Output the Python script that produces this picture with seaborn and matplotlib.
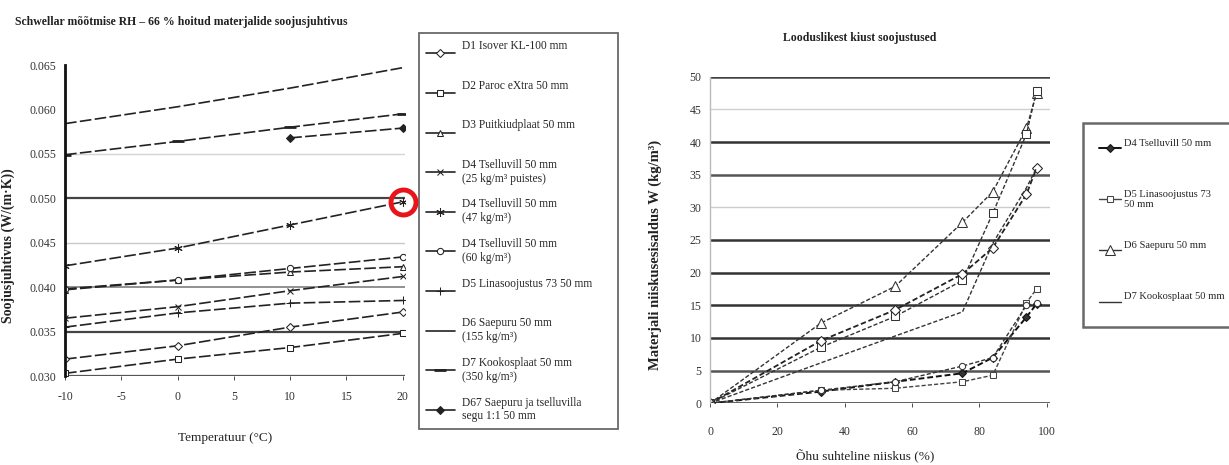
import matplotlib
matplotlib.use('Agg')
import matplotlib.pyplot as plt
import matplotlib.ticker as mticker
import seaborn as sns

sns.set_style('white')
plt.rcParams['font.family'] = ['Liberation Serif', 'DejaVu Serif']
plt.rcParams['axes.unicode_minus'] = False

# ---------------- left chart data ----------------
temps = [-10, 0, 10, 20]
temps_d67 = [10, 20]
d1 = [0.0319, 0.0334, 0.0355, 0.0372]
d2 = [0.0303, 0.0319, 0.0332, 0.0348]
d3 = [0.0397, 0.0408, 0.0417, 0.0423]
d4_25 = [0.0365, 0.0378, 0.0396, 0.0412]
d4_47 = [0.0424, 0.0444, 0.0470, 0.0496]
d4_60 = [0.0398, 0.0408, 0.0421, 0.0434]
d5 = [0.0355, 0.0371, 0.0382, 0.0385]
d6 = [0.0584, 0.0603, 0.0624, 0.0647]
d7 = [0.0549, 0.0564, 0.0580, 0.0595]
d67 = [0.0568, 0.0579]
left_labels = [
    "D1 Isover KL-100 mm",
    "D2 Paroc eXtra 50 mm",
    "D3 Puitkiudplaat 50 mm",
    "D4 Tselluvill 50 mm\n(25 kg/m\u00b3 puistes)",
    "D4 Tselluvill 50 mm\n(47 kg/m\u00b3)",
    "D4 Tselluvill 50 mm\n(60 kg/m\u00b3)",
    "D5 Linasoojustus 73 50 mm",
    "D6 Saepuru 50 mm\n(155 kg/m\u00b3)",
    "D7 Kookosplaat 50 mm\n(350 kg/m\u00b3)",
    "D67 Saepuru ja tselluvilla\nsegu 1:1 50 mm",
]
left_yticks = [0.030, 0.035, 0.040, 0.045, 0.050, 0.055, 0.060, 0.065]
left_xticks = [-10, -5, 0, 5, 10, 15, 20]

# ---------------- right chart data ----------------
rh = [0, 33, 55, 75, 84, 94, 97]
r_d4 = [0, 1.8, 3.3, 4.6, 7.0, 13.2, 15.2]
r_d5 = [0, 2.0, 2.3, 3.3, 4.3, 15.4, 17.5]
r_low3 = [0, 2.0, 3.3, 5.7, 7.0, 15.0, 15.3]
r_d6 = [0, 12.3, 17.9, 27.7, 32.4, 42.1, 47.5]
r_up2 = [0, 8.6, 13.3, 18.8, 29.1, 41.2, 47.8]
r_up3 = [0, 9.6, 14.3, 19.8, 23.8, 32.0, 36.0]
r_d7 = [0, 6.2, 10.3, 14.0, 24.5, 33.0, 36.0]
right_labels = ["D4 Tselluvill 50 mm", "D5 Linasoojustus 73\n50 mm",
                "D6 Saepuru 50 mm", "D7 Kookosplaat 50 mm"]
right_yticks = [0, 5, 10, 15, 20, 25, 30, 35, 40, 45, 50]
right_xticks = [0, 20, 40, 60, 80, 100]


def two_line(lab):
    # pad single-line legend labels so every entry takes the same height
    return lab if '\n' in lab else lab + '\n '


W, H = 1229, 465
fig = plt.figure(figsize=(W / 100, H / 100), dpi=100)
fig.patch.set_facecolor('white')


def fx(px):
    return px / W


def fy(py):
    return 1 - py / H


TXT = '#222222'

# ================= LEFT =================
axL = fig.add_axes([fx(65), fy(376), fx(405 - 65), (376 - 65) / H])
lc = '#222222'
ls_left = (0, (7, 2))
left_series = [
    (temps, d1, 'D', dict(mfc='white', ms=4.5)),
    (temps, d2, 's', dict(mfc='white', ms=4.5)),
    (temps, d3, '^', dict(mfc='white', ms=5)),
    (temps, d4_25, 'x', dict(ms=5)),
    (temps, d4_47, (6, 2, 0), dict(ms=6)),
    (temps, d4_60, 'o', dict(mfc='white', ms=4.5)),
    (temps, d5, '+', dict(ms=6)),
    (temps, d6, None, dict()),
    (temps, d7, '_', dict(ms=8, mew=2)),
    (temps_d67, d67, 'D', dict(ms=4)),
]
for (xs, ys, mk, kw), lab in zip(left_series, left_labels):
    sns.lineplot(x=xs, y=ys, ax=axL, color=lc, linestyle=ls_left, lw=1.2,
                 marker=mk, mec=lc, label=two_line(lab), sort=False,
                 errorbar=None, **kw)

# red highlight circle at the last point of the D4 (47 kg/m3) series
axL.plot([temps[-1]], [d4_47[-1]], marker='o', ms=18, mfc='none', mec='#e8141b',
         mew=3.5, clip_on=False, zorder=6, linestyle='none')

axL.set_xlim(-10, 20.2)
axL.set_ylim(0.030, 0.065)
axL.set_yticks(left_yticks)
axL.set_xticks(left_xticks)
axL.yaxis.set_major_formatter(mticker.FormatStrFormatter('%.3f'))
axL.tick_params(axis='y', labelsize=8.5, colors='#333333', length=0, pad=6)
axL.tick_params(axis='x', labelsize=8.5, colors='#333333', length=3, width=0.6,
                direction='out', pad=8, bottom=True)
for s in ['top', 'right', 'bottom']:
    axL.spines[s].set_visible(False)
axL.spines['left'].set_color('#111111')
axL.spines['left'].set_linewidth(2)
grid_cols_L = ['#555555', '#444444', '#888888', '#c8c8c8', '#444444', '#d5d5d5', '#ffffff', '#ffffff']
grid_lw_L = [1.6, 1.6, 1.3, 1.0, 1.6, 1.0, 0, 0]
for yv, c, w in zip(left_yticks, grid_cols_L, grid_lw_L):
    if w > 0:
        axL.axhline(yv, color=c, lw=w, zorder=0)
axL.set_xlabel('Temperatuur (\u00b0C)', fontsize=9.5, color=TXT)
axL.xaxis.set_label_coords((225 - 65) / 340, -(432 - 376) / 311)
axL.set_ylabel('Soojusjuhtivus (W/(m\u00b7K))', fontsize=10, color=TXT,
               weight='bold')
axL.yaxis.set_label_coords((15 - 65) / 340, 0.42)

legL = axL.legend(loc='upper left', bbox_to_anchor=(fx(419), fy(448), fx(618 - 419), (448 - 33) / H),
                  bbox_transform=fig.transFigure, mode='expand', fontsize=8.3,
                  labelspacing=1.2, handlelength=2.5, handletextpad=0.6,
                  borderpad=0.6, frameon=True, fancybox=False, borderaxespad=0)
legL.get_frame().set_edgecolor('#444444')
legL.get_frame().set_linewidth(1.3)
for ln in legL.get_lines():
    ln.set_linestyle('-')

fig.text(fx(15), fy(22), 'Schwellar m\u00f5\u00f5tmise RH \u2013 66 % hoitud materjalide soojusjuhtivus',
         ha='left', va='center', fontsize=8.5, weight='bold', color=TXT)

# ================= RIGHT =================
axR = fig.add_axes([fx(710), fy(403.3), fx(1050 - 710), (403.3 - 76.7) / H])
ls_right = (0, (3, 1.5))
right_series = [
    (r_d4, 'D', dict(color='#111111', mfc='#333333', ms=4.5, lw=1.4), right_labels[0]),
    (r_d5, 's', dict(color='#444444', mfc='white', ms=5, lw=1.0), right_labels[1]),
    (r_low3, 'o', dict(color='#333333', mfc='white', ms=4.5, lw=1.0), None),
    (r_d6, '^', dict(color='#333333', mfc='white', ms=7, lw=1.0), right_labels[2]),
    (r_up2, 's', dict(color='#333333', mfc='white', ms=6, lw=1.0), None),
    (r_up3, 'D', dict(color='#222222', mfc='white', ms=5, lw=1.3), None),
    (r_d7, None, dict(color='#333333', lw=1.0), right_labels[3]),
]
for ys, mk, kw, lab in right_series:
    sns.lineplot(x=rh, y=ys, ax=axR, linestyle=ls_right, marker=mk,
                 mec=kw['color'], label=(two_line(lab) if lab else None),
                 sort=False, errorbar=None, **kw)

axR.set_xlim(0, 101)
axR.set_ylim(0, 50)
axR.set_yticks(right_yticks)
axR.set_xticks(right_xticks)
axR.tick_params(axis='y', labelsize=8.5, colors='#333333', length=0, pad=6)
axR.tick_params(axis='x', labelsize=8.5, colors='#333333', length=3, width=0.6,
                direction='out', pad=13, bottom=True)
for s in ['top', 'right', 'bottom']:
    axR.spines[s].set_visible(False)
axR.spines['left'].set_color('#bbbbbb')
axR.spines['left'].set_linewidth(1.0)
grid_cols_R = ['#333333', '#555555', '#333333', '#333333', '#333333', '#333333',
               '#cccccc', '#555555', '#333333', '#d0d0d0', '#444444']
for yv, c in zip(right_yticks, grid_cols_R):
    lw = 1.0 if c in ('#cccccc', '#d0d0d0') else 1.8
    axR.axhline(yv, color=c, lw=lw, zorder=0)
axR.set_xlabel('\u00d5hu suhteline niiskus (%)', fontsize=9.5, color=TXT)
axR.xaxis.set_label_coords((865 - 710) / 340, -(450 - 403.3) / 326.6)
axR.set_ylabel('Materjali niiskusesisaldus W (kg/m\u00b3)', fontsize=10.5, color=TXT,
               weight='bold')
axR.yaxis.set_label_coords((662 - 710) / 340, 0.454)

legR = axR.legend(loc='upper left', bbox_to_anchor=(fx(1083), fy(343), fx(1250 - 1083), (343 - 123) / H),
                  bbox_transform=fig.transFigure, mode='expand', fontsize=7.6,
                  labelspacing=3.0, handlelength=2.1, handletextpad=0.3,
                  borderpad=1.5, frameon=True, fancybox=False, borderaxespad=0)
legR.get_frame().set_edgecolor('#444444')
legR.get_frame().set_linewidth(1.8)
for ln in legR.get_lines():
    ln.set_linestyle('-')

fig.text(fx(860), fy(38), 'Looduslikest kiust soojustused', ha='center', va='center',
         fontsize=8.5, weight='bold', color=TXT)

fig.savefig('out.png', dpi=100, facecolor='white')
